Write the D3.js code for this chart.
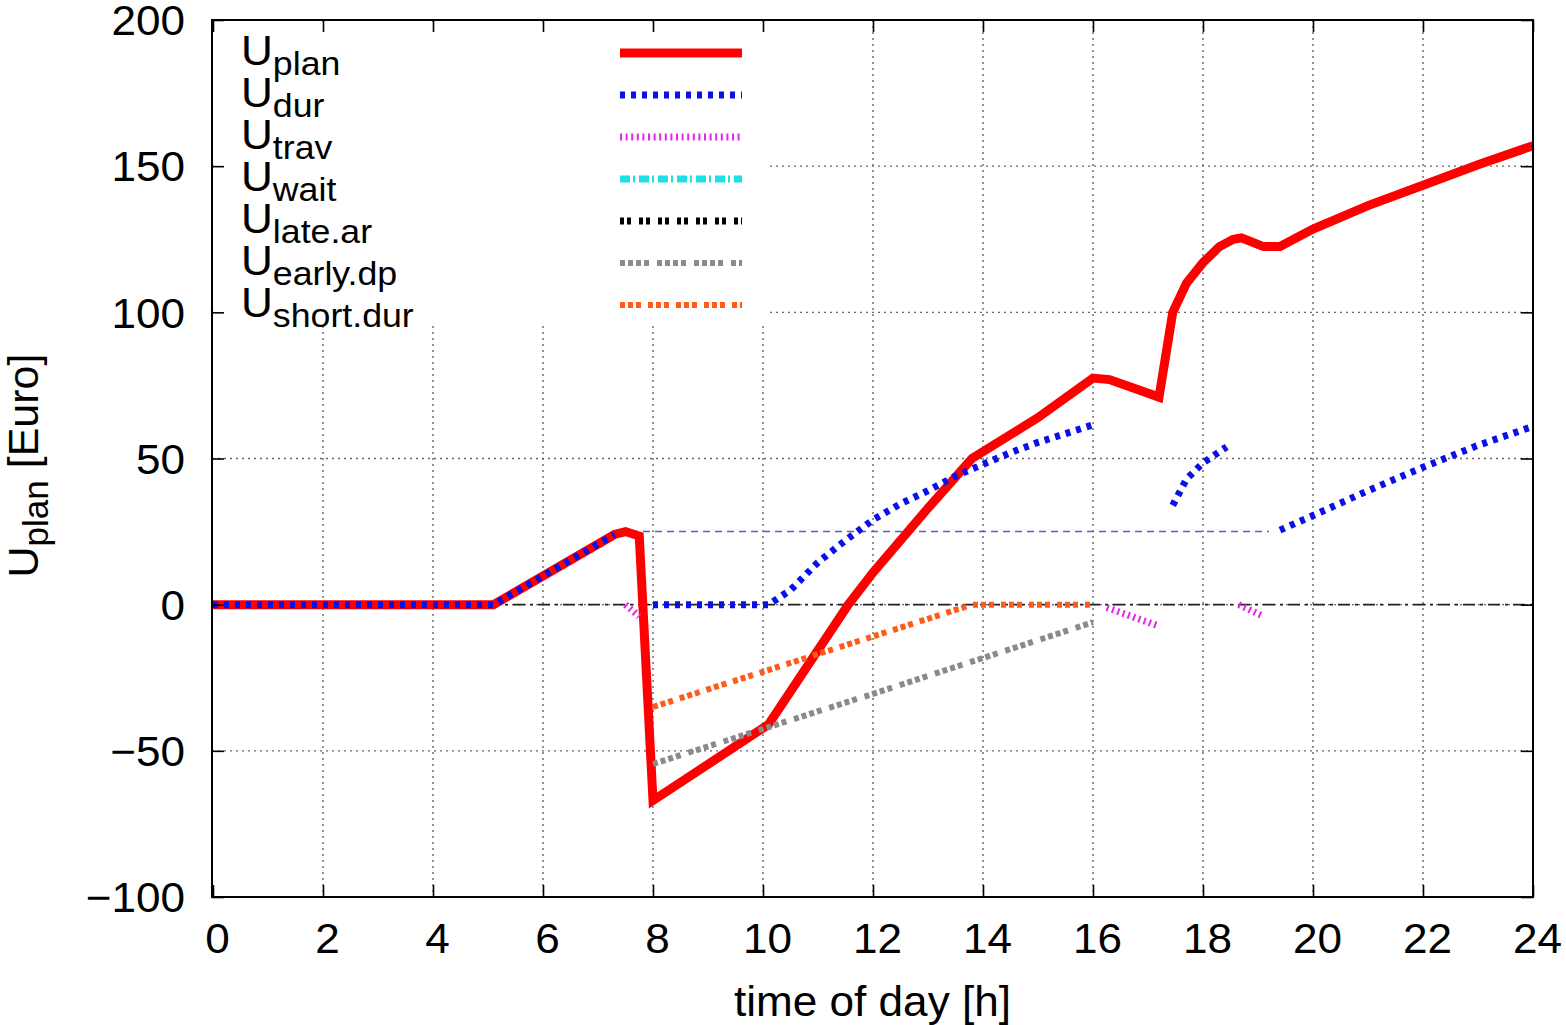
<!DOCTYPE html>
<html>
<head>
<meta charset="utf-8">
<title>U_plan vs time of day</title>
<script src="https://cdn.jsdelivr.net/npm/d3@7/dist/d3.min.js"></script>
<style>
  body { margin: 0; background: #fff; }
  text { font-family: "Liberation Sans", Arial, sans-serif; fill: #000; }
</style>
</head>
<body>
<script>

// ---- data (hour, Euro) ----
var xTicks = [0, 2, 4, 6, 8, 10, 12, 14, 16, 18, 20, 22, 24];
var yTicks = [-100, -50, 0, 50, 100, 150, 200];

var uPlan = [[0,0],[5.1,0],[7.3,24],[7.5,25],[7.75,23.5],[8.0,-67],[10.1,-41],[11.55,0],[12,11],
             [13,33],[13.8,50],[15,64],[16,77.5],[16.3,77],[17.2,71],[17.45,100],[17.7,110],[18,117],
             [18.3,122.5],[18.55,125],[18.7,125.5],[19.1,122.5],[19.4,122.5],[20,128.5],[21,136.5],
             [22,143.5],[23,150.5],[24,157]];

var uDur = [
  [[0,0],[5.1,0],[7.3,24]],
  [[8,0],[10.1,0],[10.5,5],[11,14.5],[11.5,22],[12,29],[12.5,34.5],[13,39],[13.5,44],[14,48],
   [14.5,52],[15,55.5],[15.5,58.5],[16,61.5]],
  [[17.45,34],[17.7,43],[18,48.5],[18.43,54]],
  [[19.4,25.5],[20,30.5],[21,39],[22,47],[23,54.5],[24,61]]
];
var uDurRef = [[7.6,25],[19.2,25]];

var uTrav = [
  [[7.5,0],[7.75,-4]],
  [[16.25,-1],[17.15,-7]],
  [[18.65,0],[19.1,-4]]
];
var uWait = [];
var uLateAr = [];
var uEarlyDp = [[8,-54.5],[12,-30.5],[16,-6]];
var uShortDur = [[8,-35],[13.8,0],[16,0]];

var legendSubs = ["plan", "dur", "trav", "wait", "late.ar", "early.dp", "short.dur"];

// ---- styles ----
var styles = [
  {color: "#ff0000", width: 9, dash: null},
  {color: "#0a10e8", width: 7, dash: "5,6"},
  {color: "#e526e5", width: 7, dash: "2,3.6"},
  {color: "#1ee0e6", width: 7, dash: "10,3,2,4"},
  {color: "#000000", width: 7, dash: "4,3,4,8"},
  {color: "#8a8a8a", width: 6, dash: "5,3,5,3,5,3,5,8"},
  {color: "#ff5a1a", width: 6, dash: "5,3,5,3,5,7"}
];

var W = 1566, H = 1025;
var mLeft = 212, mRight = 1533, mTop = 20, mBottom = 897;

var x = d3.scaleLinear().domain([0, 24]).range([mLeft + 1, mRight]);
var y = d3.scaleLinear().domain([-100, 200]).range([mBottom, mTop]);

var svg = d3.select("body").append("svg")
    .attr("width", W).attr("height", H);

// grid
svg.append("g").selectAll("line").data(xTicks.slice(1, -1)).enter().append("line")
    .attr("x1", function(d) { return x(d); }).attr("x2", function(d) { return x(d); })
    .attr("y1", mTop).attr("y2", mBottom)
    .attr("stroke", "#666").attr("stroke-width", 1.4).attr("stroke-dasharray", "2,4");
svg.append("g").selectAll("line").data(yTicks.slice(1, -1)).enter().append("line")
    .attr("x1", mLeft).attr("x2", mRight)
    .attr("y1", function(d) { return y(d); }).attr("y2", function(d) { return y(d); })
    .attr("stroke", "#666").attr("stroke-width", 1.4).attr("stroke-dasharray", "2,4");

// zero axis
svg.append("line")
    .attr("x1", x(0)).attr("x2", x(24)).attr("y1", y(0)).attr("y2", y(0))
    .attr("stroke", "#222").attr("stroke-width", 1.6).attr("stroke-dasharray", "12,5,3,5");

var line = d3.line()
    .x(function(d) { return x(d[0]); })
    .y(function(d) { return y(d[1]); });

// a thin reference line for U_dur
svg.append("path")
    .datum(uDurRef)
    .attr("d", line)
    .attr("fill", "none").attr("stroke", "#5b55e0").attr("stroke-width", 1.5)
    .attr("stroke-dasharray", "7,5");

var seriesList = [[uPlan], uDur, uTrav, [uWait], [uLateAr], [uEarlyDp], [uShortDur]];

seriesList.forEach(function(segs, i) {
  var st = styles[i];
  svg.append("g").selectAll("path")
      .data(segs.filter(function(s) { return s.length > 1; }))
      .enter().append("path")
      .attr("d", line)
      .attr("fill", "none")
      .attr("stroke", st.color)
      .attr("stroke-width", st.width)
      .attr("stroke-dasharray", st.dash)
      .attr("stroke-linejoin", "miter")
      .attr("stroke-miterlimit", 6);
});

// key (opaque)
svg.append("rect")
    .attr("x", mLeft + 2).attr("y", mTop + 2).attr("width", 556).attr("height", 304)
    .attr("fill", "#fff");

var key = svg.append("g").selectAll("g").data(legendSubs).enter().append("g")
    .attr("transform", function(d, i) { return "translate(0," + (53 + i * 42) + ")"; });

key.append("line")
    .attr("x1", 620).attr("x2", 742).attr("y1", 0).attr("y2", 0)
    .attr("stroke", function(d, i) { return styles[i].color; })
    .attr("stroke-width", function(d, i) { return styles[i].width; })
    .attr("stroke-dasharray", function(d, i) { return styles[i].dash; });

var kt = key.append("text")
    .attr("transform", "translate(241,12) scale(1.05,1)");
kt.append("tspan").attr("font-size", 42).text("U");
kt.append("tspan").attr("font-size", 34).attr("dy", 10).text(function(d) { return d; });

// axes: ticks inward on all four sides
function noDomain(g) { g.select(".domain").remove(); }

var xAxis = svg.append("g")
    .attr("transform", "translate(0," + mBottom + ")")
    .call(d3.axisBottom(x).tickValues(xTicks).tickSize(-12).tickSizeOuter(0))
    .call(noDomain);
xAxis.selectAll("line").attr("stroke-width", 1.6);
xAxis.attr("font-size", 42).attr("font-family", null);
xAxis.selectAll("text")
    .attr("y", 56).attr("dy", null)
    .attr("transform", "translate(4,0) scale(1.05,1)");

svg.append("g")
    .attr("transform", "translate(0," + mTop + ")")
    .call(d3.axisTop(x).tickValues(xTicks).tickSize(-12).tickSizeOuter(0).tickFormat(""))
    .call(noDomain)
    .selectAll("line").attr("stroke-width", 1.6);

var yAxis = svg.append("g")
    .attr("transform", "translate(" + mLeft + ",0)")
    .call(d3.axisLeft(y).tickValues(yTicks).tickSize(-12).tickSizeOuter(0))
    .call(noDomain);
yAxis.selectAll("line").attr("stroke-width", 1.6);
yAxis.attr("font-size", 42).attr("font-family", null);
yAxis.selectAll("text")
    .attr("x", -27 / 1.05).attr("dy", "0.35em")
    .attr("transform", "scale(1.05,1)");

svg.append("g")
    .attr("transform", "translate(" + mRight + ",0)")
    .call(d3.axisRight(y).tickValues(yTicks).tickSize(-12).tickSizeOuter(0).tickFormat(""))
    .call(noDomain)
    .selectAll("line").attr("stroke-width", 1.6);

// frame
svg.append("rect")
    .attr("x", mLeft).attr("y", mTop)
    .attr("width", mRight - mLeft).attr("height", mBottom - mTop)
    .attr("fill", "none").attr("stroke", "#000").attr("stroke-width", 2);

// axis titles
svg.append("text")
    .attr("text-anchor", "middle")
    .attr("font-size", 42)
    .attr("transform", "translate(" + ((mLeft + mRight) / 2) + ",1016) scale(1.05,1)")
    .text("time of day [h]");

var yt = svg.append("text")
    .attr("text-anchor", "middle")
    .attr("transform", "translate(38," + ((mTop + mBottom) / 2 + 7) + ") rotate(-90)");
yt.append("tspan").attr("font-size", 43).text("U");
yt.append("tspan").attr("font-size", 35).attr("dy", 10).text("plan");
yt.append("tspan").attr("font-size", 43).attr("dy", -10).text(" [Euro]");

</script>
</body>
</html>
